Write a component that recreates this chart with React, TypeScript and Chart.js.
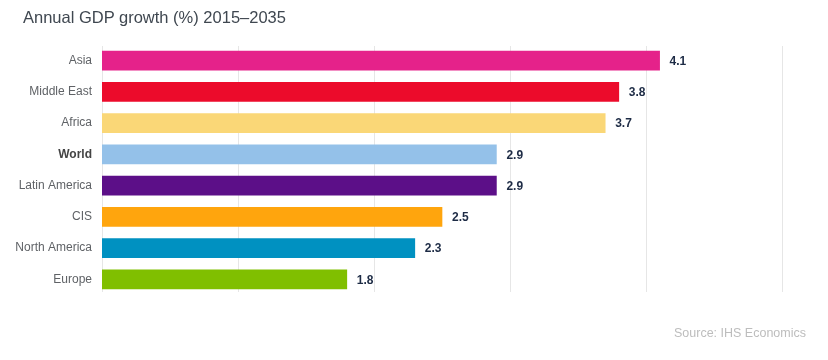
import React, { useEffect, useRef } from "react";
import { Chart, registerables } from "chart.js";

Chart.register(...registerables);

const categories = ["Asia", "Middle East", "Africa", "World", "Latin America", "CIS", "North America", "Europe"];
const growth = [4.1, 3.8, 3.7, 2.9, 2.9, 2.5, 2.3, 1.8];
const barColors = ["#E5228A", "#EC0B2B", "#FAD777", "#94C1E9", "#5C0F88", "#FFA50D", "#0091C1", "#80BF00"];
const xTicks = [0, 1, 2, 3, 4, 5];

const FONT = "'Liberation Sans', Arial, Helvetica, sans-serif";

const valueLabels = {
  id: "valueLabels",
  afterDatasetsDraw(chart: any) {
    const ctx = chart.ctx;
    const meta = chart.getDatasetMeta(0);
    ctx.save();
    ctx.font = `bold 12px ${FONT}`;
    ctx.fillStyle = "#1D2B45";
    ctx.textAlign = "left";
    ctx.textBaseline = "middle";
    meta.data.forEach((bar: any, i: number) => {
      const v = chart.data.datasets[0].data[i];
      ctx.fillText(v.toFixed(1), bar.x + 10, bar.y + 1);
    });
    ctx.restore();
  },
};

const gridLines = {
  id: "gridLines",
  beforeDatasetsDraw(chart: any) {
    const ctx = chart.ctx;
    const xs = chart.scales.x;
    const area = chart.chartArea;
    ctx.save();
    ctx.strokeStyle = "#E6E6E6";
    ctx.lineWidth = 1;
    xTicks.forEach((v) => {
      const px = Math.round(xs.getPixelForValue(v)) + 0.5;
      ctx.beginPath();
      ctx.moveTo(px, area.top + 1);
      ctx.lineTo(px, area.bottom - 3);
      ctx.stroke();
    });
    ctx.restore();
  },
};

export default function App() {
  const ref = useRef<HTMLCanvasElement>(null);
  useEffect(() => {
    if (!ref.current) return;
    const chart = new Chart(ref.current, {
      type: "bar",
      data: {
        labels: categories,
        datasets: [
          {
            data: growth,
            backgroundColor: barColors,
            borderWidth: 0,
            barThickness: 19,
          },
        ],
      },
      options: {
        indexAxis: "y",
        animation: false,
        responsive: false,
        maintainAspectRatio: false,
        layout: { padding: { left: 0, right: 46, top: 45, bottom: 65 } },
        plugins: { legend: { display: false }, tooltip: { enabled: false }, title: { display: false } },
        scales: {
          x: {
            min: xTicks[0],
            max: xTicks[xTicks.length - 1],
            ticks: { display: false, stepSize: 1 },
            grid: { display: false, drawTicks: false },
            border: { display: false },
          },
          y: {
            afterFit: (scale: any) => {
              scale.width = 102;
            },
            grid: { display: false, drawTicks: false },
            border: { display: false },
            ticks: {
              padding: 10,
              color: (c: any) => (categories[c.index] === "World" ? "#444" : "#5F6266"),
              font: (c: any) => ({
                family: FONT,
                size: 12,
                weight: categories[c.index] === "World" ? "bold" : "normal",
              }),
            },
          },
        },
      },
      plugins: [gridLines, valueLabels],
    });
    return () => chart.destroy();
  }, []);

  return (
    <div style={{ position: "fixed", left: 0, top: 0, width: 828, height: 360, background: "#fff" }}>
      <canvas ref={ref} width={828} height={360} style={{ position: "absolute", left: 0, top: 0 }} />
      <div
        style={{
          position: "absolute",
          left: 23,
          top: 8,
          fontFamily: FONT,
          fontSize: 16.5,
          color: "#3F4750",
          whiteSpace: "nowrap",
        }}
      >
        Annual GDP growth (%) 2015–2035
      </div>
      <div
        style={{
          position: "absolute",
          right: 22,
          top: 326,
          fontFamily: FONT,
          fontSize: 12.5,
          color: "#BDBDBD",
          whiteSpace: "nowrap",
        }}
      >
        Source: IHS Economics
      </div>
    </div>
  );
}
